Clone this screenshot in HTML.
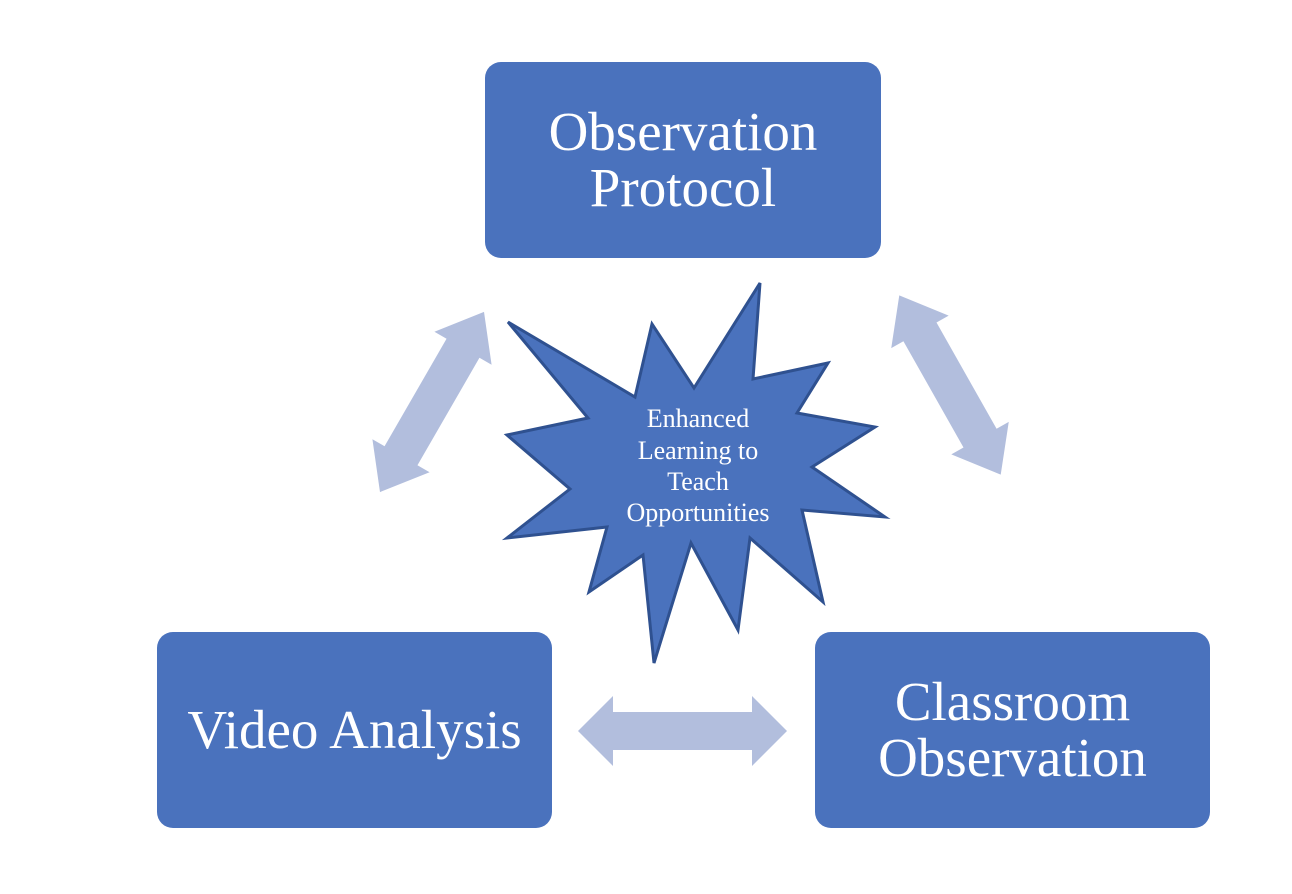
<!DOCTYPE html>
<html><head><style>
body{margin:0;width:1292px;height:894px;background:#fff;overflow:hidden;position:relative;font-family:"Liberation Serif",serif}
.b{position:absolute;background:#4a72bd;border-radius:16px;color:#fff;display:flex;align-items:center;justify-content:center;text-align:center;font-size:55px;line-height:56px}
svg{position:absolute;left:0;top:0}
</style></head><body>
<svg width="1292" height="894">
<g fill="#b2bedd">
<g transform="translate(432,402) rotate(-60)">
<polygon points="-104,0 -62,-33 -62,-19 62,-19 62,-33 104,0 62,33 62,19 -62,19 -62,33"/>
</g>
<g transform="translate(950,385) rotate(60.5)">
<polygon points="-103,0 -61,-33 -61,-19 61,-19 61,-33 103,0 61,33 61,19 -61,19 -61,33"/>
</g>
<polygon points="578,731 613,696 613,712 752,712 752,696 787,731 752,766 752,750 613,750 613,766"/>
</g>
<polygon fill="#4a72bd" stroke="#2f5190" stroke-width="3" stroke-linejoin="miter" points="508,322 635,397 652,324 694,388 760,283 753,379 828,363 797,413 875,427 812,467 885,517 802,510 823,602 750,538 738,630 691,543 654,663 643,555 589,592 607,527 507,538 570,489 507,435 588,418"/>
<g fill="#fff" font-size="26" text-anchor="middle" font-family="Liberation Serif">
<text x="698" y="427">Enhanced</text>
<text x="698" y="459">Learning to</text>
<text x="698" y="490">Teach</text>
<text x="698" y="521">Opportunities</text>
</g>
</svg>
<div class="b" style="left:485px;top:62px;width:396px;height:196px">Observation<br>Protocol</div>
<div class="b" style="left:157px;top:632px;width:395px;height:196px">Video Analysis</div>
<div class="b" style="left:815px;top:632px;width:395px;height:196px">Classroom<br>Observation</div>
</body></html>
